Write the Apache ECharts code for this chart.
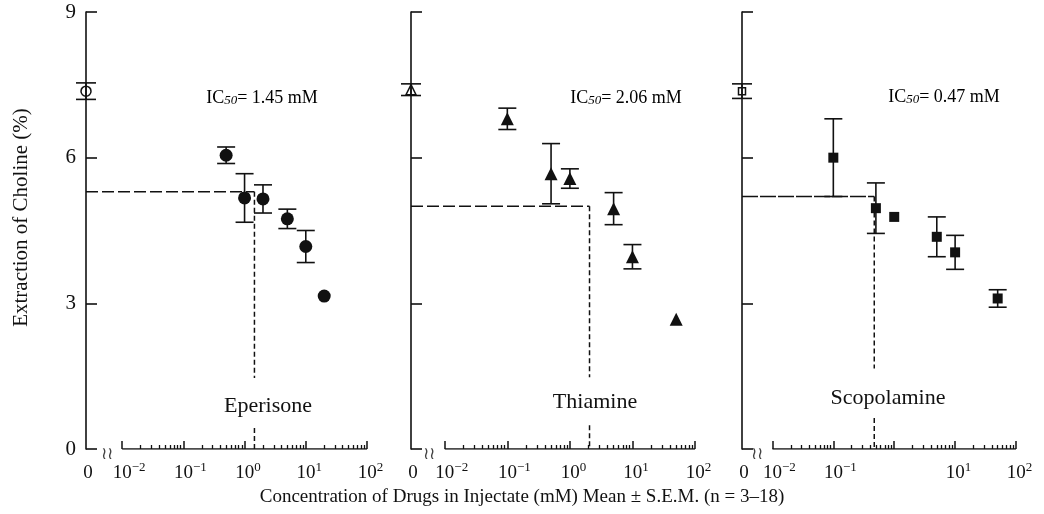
<!DOCTYPE html>
<html>
<head>
<meta charset="utf-8">
<script src="https://cdn.jsdelivr.net/npm/echarts@6/dist/echarts.min.js"></script>
<style>
  html, body { margin: 0; padding: 0; background: #fff; }
  #chart { width: 1044px; height: 514px; }
</style>
</head>
<body>
<div id="chart"></div>
<script>
  // values (Extraction of choline, %)
  const drugNames = ["Eperisone", "Thiamine", "Scopolamine"];
  const ic50Values = [1.45, 2.06, 0.47];
  const ic50Levels = [5.3, 5.0, 5.2];
  const controlMean = [7.37, 7.4, 7.37];
  const controlSem = [0.17, 0.12, 0.15];

  const eperisoneConc = [0.5, 1, 2, 5, 10, 20];
  const eperisoneMean = [6.05, 5.17, 5.15, 4.74, 4.17, 3.15];
  const eperisoneSem = [0.17, 0.5, 0.29, 0.2, 0.33, 0];

  const thiamineConc = [0.1, 0.5, 1, 5, 10, 50];
  const thiamineMean = [6.8, 5.67, 5.57, 4.95, 3.96, 2.67];
  const thiamineSem = [0.22, 0.62, 0.2, 0.33, 0.25, 0];

  const scopolamineConc = [0.1, 0.5, 1, 5, 10, 50];
  const scopolamineMean = [6.0, 4.96, 4.78, 4.37, 4.05, 3.1];
  const scopolamineSem = [0.8, 0.52, 0, 0.41, 0.35, 0.18];

  // axis ticks
  const yTicks = [0, 3, 6, 9];
  const xDecades = [0.01, 0.1, 1, 10, 100];
  const xMinorSteps = [2, 3, 4, 5, 6, 7, 8, 9];
  const xLabelValues = [
    [0.01, 0.1, 1, 10, 100],
    [0.01, 0.1, 1, 10, 100],
    [0.01, 0.1, 10, 100]
  ];
  // where the dashed IC50 drop line is interrupted by the drug name
  const dropGapTop = [1.46, 1.48, 1.66];
  const dropGapBottom = [0.43, 0.49, 0.64];

  // layout
  const gridLeft = [86, 411, 742];
  const gridWidth = [281, 284, 274];
  const axisMinLog = [-2.59, -2.54, -2.5];
  const FONT = "'Liberation Serif', 'DejaVu Serif', serif";
  const INK = "#111";

  const panels = [
    { conc: eperisoneConc, mean: eperisoneMean, sem: eperisoneSem, symbol: "circle", size: 13, hDash: [12, 4] },
    { conc: thiamineConc, mean: thiamineMean, sem: thiamineSem, symbol: "triangle", size: 13, hDash: [12, 4] },
    { conc: scopolamineConc, mean: scopolamineMean, sem: scopolamineSem, symbol: "rect", size: 10, hDash: [16, 2] }
  ];

  const minorTicks = [];
  xDecades.slice(0, 4).forEach(d => xMinorSteps.forEach(m => minorTicks.push(+(d * m).toPrecision(3))));

  const chart = echarts.init(document.getElementById("chart"));

  // "10" stays centred on its tick, the exponent hangs to the right
  const labelRich = {
    z: { fontFamily: FONT, fontSize: 19, color: INK, lineHeight: 22, verticalAlign: "bottom", padding: [0, 0, 0, 4] },
    n: { fontFamily: FONT, fontSize: 19, color: INK, lineHeight: 22, verticalAlign: "bottom", padding: [0, 0, 0, 14] },
    p: { fontFamily: FONT, fontSize: 19, color: INK, lineHeight: 22, verticalAlign: "bottom", padding: [0, 0, 0, 7] },
    s: { fontFamily: FONT, fontSize: 13, color: INK, lineHeight: 13, verticalAlign: "top" }
  };

  function tickLabel(v) {
    const lg = Math.log10(v);
    const e = Math.round(lg);
    if (Math.abs(lg - e) > 0.01) return "{z|0}";
    return (e < 0 ? "{n|10}{s|\u2212" + (-e) + "}" : "{p|10}{s|" + e + "}");
  }

  function errorBars(i, data, cap) {
    return {
      type: "custom",
      xAxisIndex: i * 2,
      yAxisIndex: i,
      data: data,
      z: 3,
      renderItem: function (params, api) {
        const x = api.value(0), m = api.value(1), s = api.value(2);
        if (!s) return null;
        const top = api.coord([x, m + s]);
        const bot = api.coord([x, m - s]);
        const hw = cap / 2;
        const style = { stroke: INK, lineWidth: 1.6 };
        return {
          type: "group",
          children: [
            { type: "line", shape: { x1: top[0], y1: top[1], x2: bot[0], y2: bot[1] }, style: style },
            { type: "line", shape: { x1: top[0] - hw, y1: top[1], x2: top[0] + hw, y2: top[1] }, style: style },
            { type: "line", shape: { x1: bot[0] - hw, y1: bot[1], x2: bot[0] + hw, y2: bot[1] }, style: style }
          ]
        };
      }
    };
  }

  const grids = [], xAxes = [], yAxes = [], series = [];

  panels.forEach((p, i) => {
    const xMin = Math.pow(10, axisMinLog[i]);
    grids.push({ left: gridLeft[i], width: gridWidth[i], top: 12, bottom: 65 });

    xAxes.push({
      type: "log", gridIndex: i, min: xMin, max: 100, position: "bottom",
      axisLine: { show: false }, splitLine: { show: false },
      axisTick: { show: true, inside: true, length: 4, customValues: minorTicks, lineStyle: { color: INK, width: 1.3 } },
      axisLabel: {
        customValues: [xMin].concat(xLabelValues[i]),
        formatter: tickLabel, rich: labelRich, margin: 12, color: INK
      }
    });
    xAxes.push({
      type: "log", gridIndex: i, min: xMin, max: 100, position: "bottom",
      axisLine: { show: false }, splitLine: { show: false },
      axisTick: { show: true, inside: true, length: 8, customValues: xDecades, lineStyle: { color: INK, width: 1.5 } },
      axisLabel: { show: false }
    });

    yAxes.push({
      type: "value", gridIndex: i, min: 0, max: 9, interval: 3,
      axisLine: { show: true, lineStyle: { color: INK, width: 1.6 } },
      axisTick: { show: true, inside: true, length: 11, lineStyle: { color: INK, width: 1.6 } },
      axisLabel: { show: i === 0, margin: 10, color: INK, fontFamily: FONT, fontSize: 21,
        customValues: yTicks },
      splitLine: { show: false },
      name: i === 0 ? "Extraction of Choline (%)" : "",
      nameLocation: "middle", nameGap: 54, nameRotate: 90,
      nameTextStyle: { fontFamily: FONT, fontSize: 21, color: INK, padding: [0, 0, 0, 26] }
    });

    // log part of the x axis line (broken after 0)
    series.push({
      type: "line", xAxisIndex: i * 2, yAxisIndex: i, silent: true, symbol: "none",
      data: [[xDecades[0], 0], [xDecades[xDecades.length - 1], 0]],
      lineStyle: { color: INK, width: 1.6 }
    });
    // axis break mark
    series.push({
      type: "scatter", xAxisIndex: i * 2, yAxisIndex: i, silent: true,
      symbolSize: 1, itemStyle: { color: "rgba(0,0,0,0)" },
      data: [[Math.pow(10, -2.25), 0]],
      label: { show: true, formatter: "\u2240\u2240", position: "inside", offset: [0, 6],
        fontFamily: "'DejaVu Serif', serif", fontSize: 17, color: INK }
    });

    // IC50 guide lines
    const ic = ic50Values[i], lvl = ic50Levels[i];
    series.push({
      type: "line", xAxisIndex: i * 2, yAxisIndex: i, silent: true, symbol: "none",
      data: [[xMin, lvl], [ic, lvl]],
      lineStyle: { color: INK, width: 1.5, type: p.hDash }
    });
    series.push({
      type: "line", xAxisIndex: i * 2, yAxisIndex: i, silent: true, symbol: "none",
      data: [[ic, lvl], [ic, dropGapTop[i]]],
      lineStyle: { color: INK, width: 1.5, type: [5, 3] }
    });
    series.push({
      type: "line", xAxisIndex: i * 2, yAxisIndex: i, silent: true, symbol: "none",
      data: [[ic, dropGapBottom[i]], [ic, 0]],
      lineStyle: { color: INK, width: 1.5, type: [5, 3] }
    });

    // error bars
    series.push(errorBars(i, p.conc.map((c, k) => [c, p.mean[k], p.sem[k]]), 18));
    series.push(errorBars(i, [[xMin, controlMean[i], controlSem[i]]], 20));

    // drug points
    series.push({
      type: "scatter", xAxisIndex: i * 2, yAxisIndex: i, z: 4,
      symbol: p.symbol, symbolSize: p.size,
      data: p.conc.map((c, k) => [c, p.mean[k]]),
      itemStyle: { color: INK, opacity: 1 }
    });
    // control (0 mM) point, open symbol
    series.push({
      type: "scatter", xAxisIndex: i * 2, yAxisIndex: i, z: 4,
      symbol: p.symbol, symbolSize: p.size - 3,
      data: [[xMin, controlMean[i]]],
      itemStyle: { color: "rgba(255,255,255,0)", borderColor: INK, borderWidth: 1.5, opacity: 1 }
    });
  });

  const textRich = {
    a: { fontFamily: FONT, fontSize: 18, color: INK, lineHeight: 24, verticalAlign: "bottom" },
    s: { fontFamily: FONT, fontSize: 13, fontStyle: "italic", color: INK, lineHeight: 13, verticalAlign: "bottom" }
  };
  const icPos = [[262, 95], [626, 95], [944, 94]];
  const namePos = [[268, 406], [595, 402], [888, 398]];
  const graphics = [];
  drugNames.forEach((n, i) => {
    graphics.push({
      type: "text", x: icPos[i][0], y: icPos[i][1],
      style: { text: "{a|IC}{s|50}{a|= " + ic50Values[i].toFixed(2) + " mM}", rich: textRich,
        align: "center", verticalAlign: "middle" }
    });
    graphics.push({
      type: "text", x: namePos[i][0], y: namePos[i][1],
      style: { text: n, font: "22px " + FONT, fill: INK, align: "center", verticalAlign: "middle" }
    });
  });
  graphics.push({
    type: "text", x: 522, y: 497,
    style: { text: "Concentration of Drugs in Injectate (mM) Mean \u00b1 S.E.M. (n = 3\u201318)",
      font: "19px " + FONT, fill: INK, align: "center", verticalAlign: "middle" }
  });

  chart.setOption({
    backgroundColor: "#fff",
    animation: false,
    grid: grids,
    xAxis: xAxes,
    yAxis: yAxes,
    series: series,
    graphic: graphics
  });
</script>
</body>
</html>
